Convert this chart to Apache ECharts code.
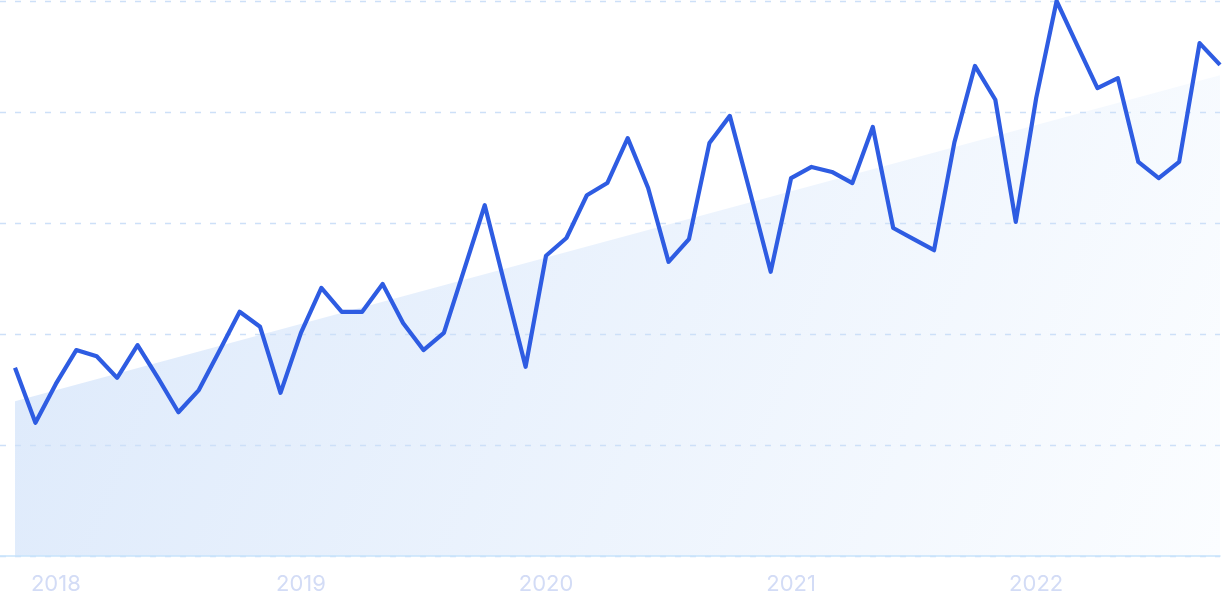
<!DOCTYPE html>
<html>
<head>
<meta charset="utf-8">
<script src="https://cdn.jsdelivr.net/npm/echarts@6/dist/echarts.min.js"></script>
<style>
html,body{margin:0;padding:0;background:#fff;}
#chart{width:1224px;height:612px;}
</style>
</head>
<body>
<div id="chart"></div>
<script>
const months = [
  '2017-11','2017-12',
  '2018-01','2018-02','2018-03','2018-04','2018-05','2018-06','2018-07','2018-08','2018-09','2018-10','2018-11','2018-12',
  '2019-01','2019-02','2019-03','2019-04','2019-05','2019-06','2019-07','2019-08','2019-09','2019-10','2019-11','2019-12',
  '2020-01','2020-02','2020-03','2020-04','2020-05','2020-06','2020-07','2020-08','2020-09','2020-10','2020-11','2020-12',
  '2021-01','2021-02','2021-03','2021-04','2021-05','2021-06','2021-07','2021-08','2021-09','2021-10','2021-11','2021-12',
  '2022-01','2022-02','2022-03','2022-04','2022-05','2022-06','2022-07','2022-08','2022-09','2022-10'
];
const interest = [
  33.9, 24.0,
  31.0, 37.1, 36.0, 32.1, 38.0, 32.1, 25.9, 29.9, 36.9, 44.0, 41.3, 29.4,
  40.2, 48.3, 44.0, 44.0, 49.0, 42.0, 37.1, 40.2, 51.7, 63.2, 48.6, 34.1,
  54.1, 57.3, 65.0, 67.2, 75.3, 66.3, 53.0, 57.1, 74.4, 79.3, 65.4, 51.2,
  68.1, 70.1, 69.2, 67.2, 77.3, 59.1, 57.1, 55.1, 74.6, 88.3, 82.2, 60.2,
  82.5, 100, 92.1, 84.3, 86.1, 71.0, 68.1, 71.0, 92.4, 88.5
];
const trendEnds = [27.9, 86.6];
const yTicks = [0, 20, 40, 60, 80, 100];

const chart = echarts.init(document.getElementById('chart'), null, {renderer: 'canvas'});
const option = {
  backgroundColor: '#ffffff',
  animation: false,
  grid: [
    {left: 15, right: 4, top: 1, bottom: 56, containLabel: false},
    {left: 0, right: 4, top: 1, bottom: 56, containLabel: false}
  ],
  xAxis: [
    {
      type: 'category', gridIndex: 0, data: months, boundaryGap: false,
      axisLine: {show: false}, axisTick: {show: false}, splitLine: {show: false},
      axisLabel: {
        interval: function (i) { return i % 12 === 2; },
        formatter: function (v) { return v.slice(0, 4); },
        color: '#d3dcf6', fontSize: 22, fontFamily: 'Inter', margin: 17
      }
    },
    {
      type: 'value', gridIndex: 1, min: 0, max: 1, z: 2,
      axisLine: {show: true, onZero: false, lineStyle: {color: '#c8e4fb', width: 1.5}},
      axisTick: {show: false}, axisLabel: {show: false}, splitLine: {show: false}
    }
  ],
  yAxis: [
    {
      type: 'value', gridIndex: 0, min: yTicks[0], max: yTicks[yTicks.length - 1], interval: 20,
      axisLine: {show: false}, axisTick: {show: false}, axisLabel: {show: false}, splitLine: {show: false}
    },
    {
      type: 'value', gridIndex: 1, min: yTicks[0], max: yTicks[yTicks.length - 1], interval: 20, z: 2,
      axisLine: {show: false}, axisTick: {show: false}, axisLabel: {show: false},
      splitLine: {show: true, lineStyle: {color: '#cde0f8', width: 1.3, type: [6, 9]}}
    }
  ],
  series: [
    {
      type: 'line', xAxisIndex: 0, yAxisIndex: 0,
      data: [[0, trendEnds[0]], [months.length - 1, trendEnds[1]]],
      symbol: 'none', lineStyle: {width: 0}, silent: true, z: 0,
      areaStyle: {
        opacity: 1,
        color: new echarts.graphic.LinearGradient(0, 0, 1, 1, [
          {offset: 0, color: '#dce9fb'},
          {offset: 1, color: '#fbfdff'}
        ])
      }
    },
    {
      type: 'line', xAxisIndex: 0, yAxisIndex: 0,
      data: interest, symbol: 'none', clip: false, z: 5,
      lineStyle: {color: '#2e5ce2', width: 4.2, join: 'round'}
    }
  ]
};
chart.setOption(option);
</script>
</body>
</html>
